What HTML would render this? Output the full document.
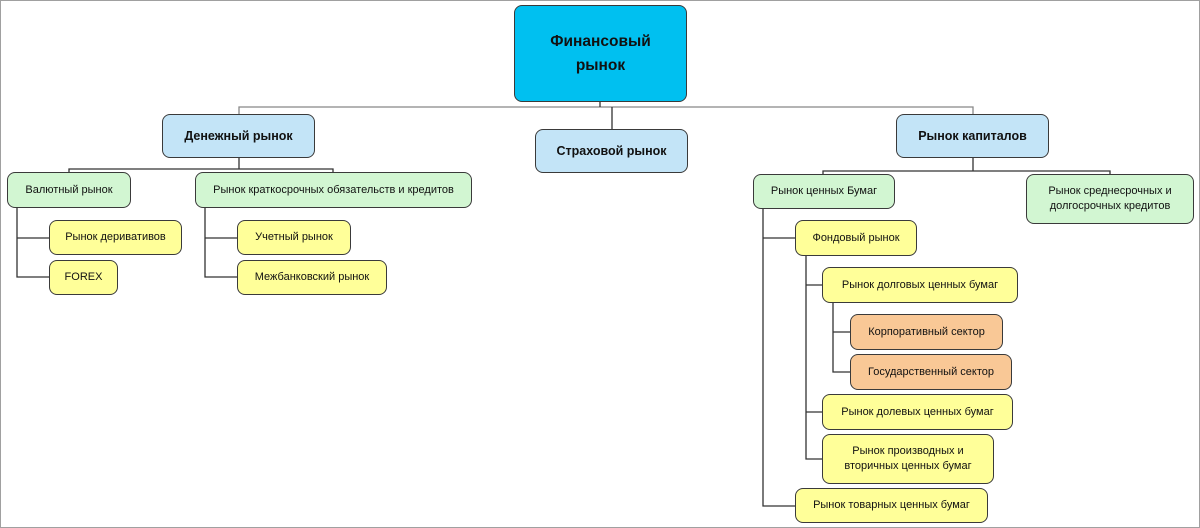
<!DOCTYPE html>
<html><head><meta charset="utf-8"><style>
body{margin:0;width:1200px;height:528px;background:#fff;position:relative;overflow:hidden;font-family:"Liberation Sans","DejaVu Sans",sans-serif;}
.f{position:absolute;left:0;top:0;width:1198px;height:526px;border:1px solid #a0a0a0;}
.b{position:absolute;box-sizing:border-box;border:1.5px solid #3a3a3a;border-radius:8px;display:flex;align-items:center;justify-content:center;text-align:center;font-size:11px;color:#111;line-height:15px;}
.bl{background:#c3e4f7;font-weight:bold;font-size:12.5px;}
.g{background:#d2f6d2;}
.y{background:#ffff99;}
.o{background:#f9c896;}
svg{position:absolute;left:0;top:0;}
</style></head><body>
<div class="f"></div>
<svg width="1200" height="528">
<g stroke="#333" stroke-width="1.3" fill="none">
<path d="M239 114V107H973V114" stroke="#888"/>
<path d="M600 102V107M612 107V129"/>
<path d="M239 158V169M69 172V169H333V172"/>
<path d="M17 208V277H49M17 238H49"/>
<path d="M205 208V277H237M205 238H237"/>
<path d="M973 158V171M823 174V171H1110V174"/>
<path d="M763 209V506H795M763 238H795"/>
<path d="M806 256V459H822M806 285H822M806 412H822"/>
<path d="M833 303V372H850M833 332H850"/>
</g></svg>
<div class="b" style="left:514px;top:5px;width:173px;height:97px;background:#00c0f0;font-weight:bold;font-size:15.5px;line-height:24px;">Финансовый<br>рынок</div>
<div class="b bl" style="left:162px;top:114px;width:153px;height:44px;">Денежный рынок</div>
<div class="b bl" style="left:535px;top:129px;width:153px;height:44px;">Страховой рынок</div>
<div class="b bl" style="left:896px;top:114px;width:153px;height:44px;">Рынок капиталов</div>
<div class="b g" style="left:7px;top:172px;width:124px;height:36px;">Валютный рынок</div>
<div class="b g" style="left:195px;top:172px;width:277px;height:36px;">Рынок краткосрочных обязательств и кредитов</div>
<div class="b y" style="left:49px;top:220px;width:133px;height:35px;">Рынок деривативов</div>
<div class="b y" style="left:49px;top:260px;width:69px;height:35px;">FOREX</div>
<div class="b y" style="left:237px;top:220px;width:114px;height:35px;">Учетный рынок</div>
<div class="b y" style="left:237px;top:260px;width:150px;height:35px;">Межбанковский рынок</div>
<div class="b g" style="left:753px;top:174px;width:142px;height:35px;">Рынок ценных Бумаг</div>
<div class="b g" style="left:1026px;top:174px;width:168px;height:50px;">Рынок среднесрочных и<br>долгосрочных кредитов</div>
<div class="b y" style="left:795px;top:220px;width:122px;height:36px;">Фондовый рынок</div>
<div class="b y" style="left:822px;top:267px;width:196px;height:36px;">Рынок долговых ценных бумаг</div>
<div class="b o" style="left:850px;top:314px;width:153px;height:36px;">Корпоративный сектор</div>
<div class="b o" style="left:850px;top:354px;width:162px;height:36px;">Государственный сектор</div>
<div class="b y" style="left:822px;top:394px;width:191px;height:36px;">Рынок долевых ценных бумаг</div>
<div class="b y" style="left:822px;top:434px;width:172px;height:50px;">Рынок производных и<br>вторичных ценных бумаг</div>
<div class="b y" style="left:795px;top:488px;width:193px;height:35px;">Рынок товарных ценных бумаг</div>
</body></html>
